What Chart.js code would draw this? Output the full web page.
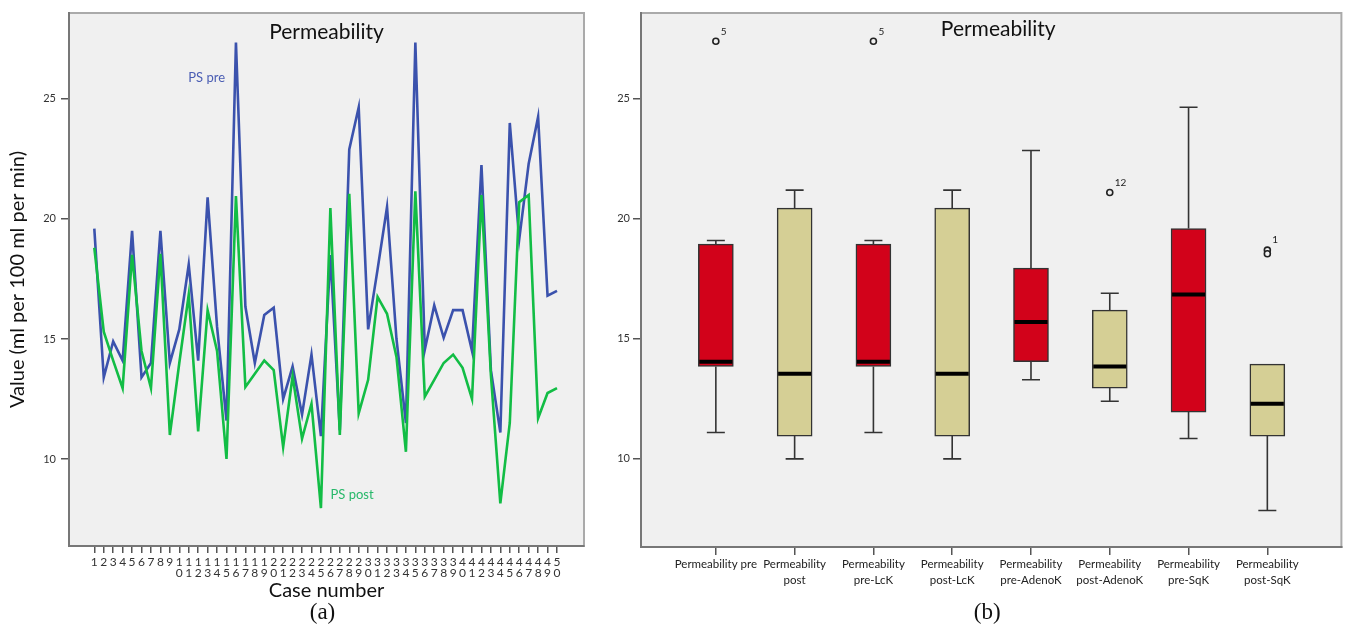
<!DOCTYPE html>
<html>
<head>
<meta charset="utf-8">
<script src="https://cdn.jsdelivr.net/npm/chart.js@4.4.0/dist/chart.umd.min.js"></script>
<style>
  body { margin: 0; background: #fff; width: 1347px; height: 628px; overflow: hidden; position: relative; }
  #left { position: absolute; left: 0; top: 0; }
  #right { position: absolute; left: 600px; top: 0; }
</style>
</head>
<body>
<canvas id="left" width="600" height="628"></canvas>
<canvas id="right" width="747" height="628"></canvas>
<script>
// (a) 每個病例的 PS 值
const cases = [1, 2, 3, 4, 5, 6, 7, 8, 9, 10, 11, 12, 13, 14, 15, 16, 17, 18, 19, 20,
  21, 22, 23, 24, 25, 26, 27, 28, 29, 30, 31, 32, 33, 34, 35, 36, 37, 38, 39, 40,
  41, 42, 43, 44, 45, 46, 47, 48, 49, 50];
const psPre = [19.6, 13.4, 14.9, 14.1, 19.5, 13.4, 14.0, 19.5, 14.0, 15.4,
  18.1, 14.1, 20.9, 15.5, 11.6, 27.35, 16.35, 14.0, 16.0, 16.3,
  12.5, 13.85, 11.85, 14.35, 10.95, 18.5, 11.2, 22.9, 24.65, 15.4,
  17.9, 20.5, 15.0, 11.5, 27.35, 14.55, 16.4, 15.05, 16.2, 16.2,
  14.5, 22.25, 13.7, 11.1, 24.0, 19.15, 22.3, 24.25, 16.8, 17.0];
const psPost = [18.8, 15.3, 14.1, 12.95, 18.5, 14.5, 12.95, 18.55, 11.0, 14.0,
  16.85, 11.15, 16.2, 14.5, 10.0, 20.95, 13.0, 13.55, 14.1, 13.7,
  10.5, 13.45, 10.85, 12.3, 7.95, 20.45, 11.0, 21.05, 11.9, 13.3,
  16.75, 16.05, 14.25, 10.3, 21.15, 12.6, 13.3, 14.0, 14.35, 13.8,
  12.5, 21.0, 13.5, 8.15, 11.5, 20.7, 21.0, 11.7, 12.75, 12.95];
const yTicks = [10, 15, 20, 25];

// (b) 盒鬚圖
const boxLabels = [["Permeability pre"], ["Permeability", "post"], ["Permeability", "pre-LcK"],
  ["Permeability", "post-LcK"], ["Permeability", "pre-AdenoK"], ["Permeability", "post-AdenoK"],
  ["Permeability", "pre-SqK"], ["Permeability", "post-SqK"]];
const whiskerLow = [11.1, 10.0, 11.1, 10.0, 13.3, 12.4, 10.85, 7.85];
const q1 = [13.85, 10.95, 13.85, 10.95, 14.05, 12.95, 11.95, 10.95];
const median = [14.05, 13.55, 14.05, 13.55, 15.7, 13.85, 16.85, 12.3];
const q3 = [18.95, 20.45, 18.95, 20.45, 17.95, 16.2, 19.6, 13.95];
const whiskerHigh = [19.1, 21.2, 19.1, 21.2, 22.85, 16.9, 24.65, 13.95];
const outlierBox = [0, 2, 5, 7, 7];
const outlierValue = [27.4, 27.4, 21.1, 18.7, 18.55];
const outlierCase = ["5", "5", "12", "1", ""];

const blue = "#3b52ad";
const green = "#12bd45";
const red = "#d2021a";
const tan = "#d5cf95";
const font = "Lato";

// 灰色繪圖區 + 外框
const plotFrame = {
  id: "plotFrame",
  beforeDraw(chart) {
    const { ctx, chartArea: a } = chart;
    ctx.save();
    ctx.fillStyle = "#f0f0f0";
    ctx.fillRect(a.left, a.top, a.right - a.left, a.bottom - a.top);
    ctx.strokeStyle = "#aaaaaa";
    ctx.lineWidth = 2;
    ctx.strokeRect(a.left, a.top, a.right - a.left, a.bottom - a.top);
    ctx.restore();
  },
};

// 圖內標題與 (a)/(b)
const innerText = {
  id: "innerText",
  afterDraw(chart, args, opts) {
    const { ctx, chartArea: a } = chart;
    const cx = (a.left + a.right) / 2;
    ctx.save();
    ctx.textAlign = "center";
    ctx.textBaseline = "middle";
    ctx.fillStyle = "#111";
    ctx.font = `21px ${font}`;
    ctx.fillText("Permeability", cx + opts.titleShift, a.top + opts.titleTop);
    ctx.font = "23px 'Liberation Serif'";
    ctx.fillText(opts.panel, cx - 4, 613);
    ctx.restore();
  },
};

// 線條旁的系列名稱
const seriesNotes = {
  id: "seriesNotes",
  afterDatasetsDraw(chart) {
    const { ctx, scales: { x, y } } = chart;
    ctx.save();
    ctx.font = `13px ${font}`;
    ctx.textAlign = "center";
    ctx.textBaseline = "middle";
    ctx.fillStyle = "#4a5db3";
    ctx.fillText("PS pre", x.getPixelForValue(12.9), y.getPixelForValue(25.9));
    ctx.fillStyle = "#27b86a";
    ctx.fillText("PS post", x.getPixelForValue(28.3), y.getPixelForValue(8.5));
    ctx.restore();
  },
};

new Chart(document.getElementById("left"), {
  type: "line",
  data: {
    datasets: [
      {
        label: "PS post",
        data: cases.map((c, i) => ({ x: c, y: psPost[i] })),
        borderColor: green,
        borderWidth: 2.6,
        pointRadius: 0,
        tension: 0,
      },
      {
        label: "PS pre",
        data: cases.map((c, i) => ({ x: c, y: psPre[i] })),
        borderColor: blue,
        borderWidth: 2.6,
        pointRadius: 0,
        tension: 0,
      },
    ],
  },
  options: {
    responsive: false,
    animation: false,
    layout: { padding: { top: 13, right: 16, left: 0, bottom: 0 } },
    plugins: { legend: { display: false }, tooltip: { enabled: false }, innerText: { panel: "(a)", titleShift: 0, titleTop: 19 } },
    scales: {
      x: {
        type: "linear",
        min: -1.68,
        max: 52.86,
        afterBuildTicks: (s) => { s.ticks = cases.map((c) => ({ value: c })); },
        afterFit: (s) => { s.height = 82; },
        ticks: {
          autoSkip: false,
          maxRotation: 0,
          callback: (v) => String(v).split(""),
          font: { family: font, size: 12, lineHeight: 0.95 },
          color: "#333",
          padding: 3,
        },
        grid: { drawOnChartArea: false, tickLength: 7, color: "#555", lineWidth: 1.5 },
        border: { color: "#777", width: 2 },
        title: { display: true, text: "Case number", font: { family: font, size: 20 }, color: "#111", padding: { top: 0, bottom: 25 } },
      },
      y: {
        min: 6.375,
        max: 28.58,
        afterBuildTicks: (s) => { s.ticks = yTicks.map((v) => ({ value: v })); },
        afterFit: (s) => { s.width = 69; },
        ticks: { font: { family: font, size: 11 }, color: "#333", padding: 5 },
        grid: { drawOnChartArea: false, tickLength: 8, color: "#555", lineWidth: 1.5 },
        border: { color: "#777", width: 2 },
        title: { display: true, text: "Value (ml per 100 ml per min)", font: { family: font, size: 20 }, color: "#111", padding: { top: 6, bottom: 0 } },
      },
    },
  },
  plugins: [plotFrame, innerText, seriesNotes],
});

// 鬚線、中位數、離群值編號
const boxParts = {
  id: "boxParts",
  afterDatasetsDraw(chart) {
    const { ctx, scales: { x, y } } = chart;
    ctx.save();
    boxLabels.forEach((_, i) => {
      const cx = x.getPixelForValue(i);
      ctx.strokeStyle = "#333";
      ctx.lineWidth = 1.6;
      ctx.beginPath();
      if (whiskerHigh[i] > q3[i]) {
        ctx.moveTo(cx, y.getPixelForValue(q3[i]));
        ctx.lineTo(cx, y.getPixelForValue(whiskerHigh[i]));
        ctx.moveTo(cx - 9, y.getPixelForValue(whiskerHigh[i]));
        ctx.lineTo(cx + 9, y.getPixelForValue(whiskerHigh[i]));
      }
      ctx.moveTo(cx, y.getPixelForValue(q1[i]));
      ctx.lineTo(cx, y.getPixelForValue(whiskerLow[i]));
      ctx.moveTo(cx - 9, y.getPixelForValue(whiskerLow[i]));
      ctx.lineTo(cx + 9, y.getPixelForValue(whiskerLow[i]));
      ctx.stroke();
      ctx.strokeStyle = "#000";
      ctx.lineWidth = 4;
      ctx.beginPath();
      ctx.moveTo(cx - 16.5, y.getPixelForValue(median[i]));
      ctx.lineTo(cx + 16.5, y.getPixelForValue(median[i]));
      ctx.stroke();
    });
    ctx.fillStyle = "#222";
    ctx.font = `10px ${font}`;
    ctx.textAlign = "left";
    ctx.textBaseline = "middle";
    outlierBox.forEach((b, i) => {
      ctx.fillText(outlierCase[i], x.getPixelForValue(b) + 5, y.getPixelForValue(outlierValue[i]) - 10);
    });
    ctx.restore();
  },
};

new Chart(document.getElementById("right"), {
  type: "bar",
  data: {
    datasets: [
      {
        type: "scatter",
        data: outlierBox.map((b, i) => ({ x: b, y: outlierValue[i] })),
        pointStyle: "circle",
        pointRadius: 3,
        borderWidth: 1.6,
        borderColor: "#222",
        backgroundColor: "#f0f0f0",
      },
      {
        data: boxLabels.map((_, i) => ({ x: i, y: [q1[i], q3[i]] })),
        backgroundColor: boxLabels.map((_, i) => (i % 2 === 0 ? red : tan)),
        borderColor: "#333",
        borderWidth: 1.5,
        borderSkipped: false,
        barThickness: 35,
      },
    ],
  },
  options: {
    responsive: false,
    animation: false,
    layout: { padding: { top: 13, right: 4, left: 0, bottom: 0 } },
    plugins: { legend: { display: false }, tooltip: { enabled: false }, innerText: { panel: "(b)", titleShift: 7, titleTop: 16 } },
    scales: {
      x: {
        type: "linear",
        min: -0.95,
        max: 7.94,
        offset: false,
        afterBuildTicks: (s) => { s.ticks = boxLabels.map((_, i) => ({ value: i })); },
        afterFit: (s) => { s.height = 81; },
        ticks: {
          autoSkip: false,
          maxRotation: 0,
          callback: (v) => boxLabels[v],
          font: { family: font, size: 11.5, lineHeight: 1.38 },
          color: "#222",
          padding: 1,
        },
        grid: { offset: false, drawOnChartArea: false, tickLength: 8, color: "#555", lineWidth: 1.5 },
        border: { color: "#777", width: 2 },
      },
      y: {
        min: 6.33,
        max: 28.58,
        afterBuildTicks: (s) => { s.ticks = yTicks.map((v) => ({ value: v })); },
        afterFit: (s) => { s.width = 41; },
        ticks: { font: { family: font, size: 11 }, color: "#333", padding: 3 },
        grid: { drawOnChartArea: false, tickLength: 8, color: "#555", lineWidth: 1.5 },
        border: { color: "#777", width: 2 },
      },
    },
  },
  plugins: [plotFrame, boxParts, innerText],
});
</script>
</body>
</html>
